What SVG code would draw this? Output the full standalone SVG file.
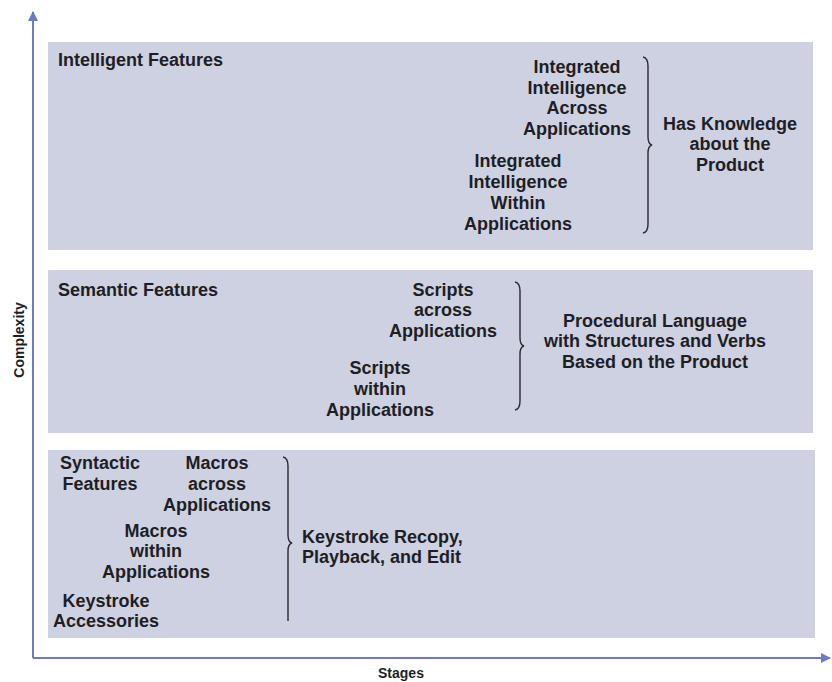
<svg xmlns="http://www.w3.org/2000/svg" width="832" height="682" viewBox="0 0 832 682">
<defs>
<style>
.panel{fill:#cdd1e2;}
.t{font-family:"Liberation Sans",Arial,sans-serif;font-weight:bold;font-size:18px;fill:#1e1e24;}
.c{text-anchor:middle;}
.ax{stroke:#6a7bc8;stroke-width:2;fill:none;}
.br{stroke:#2a2a30;stroke-width:1.4;fill:none;}
</style>
<marker id="ah" viewBox="0 0 10 10" refX="9" refY="5" markerWidth="5" markerHeight="5" orient="auto" markerUnits="strokeWidth">
<path d="M0,0 L10,5 L0,10 z" fill="#6a7bc8"/>
</marker>
</defs>
<rect width="832" height="682" fill="#ffffff"/>
<g id="connectors">
<line class="ax" x1="33" y1="658" x2="33" y2="12" marker-end="url(#ah)"/>
<line class="ax" x1="33" y1="658" x2="830" y2="658" marker-end="url(#ah)"/>
</g>
<text class="t c" style="font-size:14px" transform="translate(24,340) rotate(-90)">Complexity</text>
<text class="t c" style="font-size:14px" x="401" y="678">Stages</text>
<g id="intelligent">
<rect class="panel" x="48" y="42" width="765" height="208"/>
<text class="t" x="58" y="66">Intelligent Features</text>
<text class="t c" x="577"><tspan x="577" y="73">Integrated</tspan><tspan x="577" y="94">Intelligence</tspan><tspan x="577" y="114">Across</tspan><tspan x="577" y="135">Applications</tspan></text>
<text class="t c" x="518"><tspan x="518" y="167">Integrated</tspan><tspan x="518" y="188">Intelligence</tspan><tspan x="518" y="209">Within</tspan><tspan x="518" y="230">Applications</tspan></text>
<path class="br" d="M643,57 Q648,58 648,66 L648,137 Q648,144 652,145 Q648,146 648,153 L648,224 Q648,232 643,233"/>
<text class="t c"><tspan x="730" y="130">Has Knowledge</tspan><tspan x="730" y="150">about the</tspan><tspan x="730" y="171">Product</tspan></text>
</g>
<g id="semantic">
<rect class="panel" x="48" y="270" width="765" height="163"/>
<text class="t" x="58" y="296">Semantic Features</text>
<text class="t c"><tspan x="443" y="296">Scripts</tspan><tspan x="443" y="316">across</tspan><tspan x="443" y="337">Applications</tspan></text>
<text class="t c"><tspan x="380" y="374">Scripts</tspan><tspan x="380" y="395">within</tspan><tspan x="380" y="416">Applications</tspan></text>
<path class="br" d="M515,282 Q520,283 520,291 L520,338 Q520,345 524,346 Q520,347 520,354 L520,401 Q520,409 515,410"/>
<text class="t c"><tspan x="655" y="327">Procedural Language</tspan><tspan x="655" y="347">with Structures and Verbs</tspan><tspan x="655" y="368">Based on the Product</tspan></text>
</g>
<g id="syntactic">
<rect class="panel" x="48" y="450" width="767" height="188"/>
<text class="t c"><tspan x="100" y="469">Syntactic</tspan><tspan x="100" y="490">Features</tspan></text>
<text class="t c"><tspan x="217" y="469">Macros</tspan><tspan x="217" y="490">across</tspan><tspan x="217" y="511">Applications</tspan></text>
<text class="t c"><tspan x="156" y="537">Macros</tspan><tspan x="156" y="557">within</tspan><tspan x="156" y="578">Applications</tspan></text>
<text class="t c"><tspan x="106" y="607">Keystroke</tspan><tspan x="106" y="627">Accessories</tspan></text>
<path class="br" d="M283,457 Q288,458 288,466 L288,535 Q288,542 292,543 Q288,544 288,551 L288,621"/>
<text class="t"><tspan x="302" y="543">Keystroke Recopy,</tspan><tspan x="302" y="563">Playback, and Edit</tspan></text>
</g>
</svg>
